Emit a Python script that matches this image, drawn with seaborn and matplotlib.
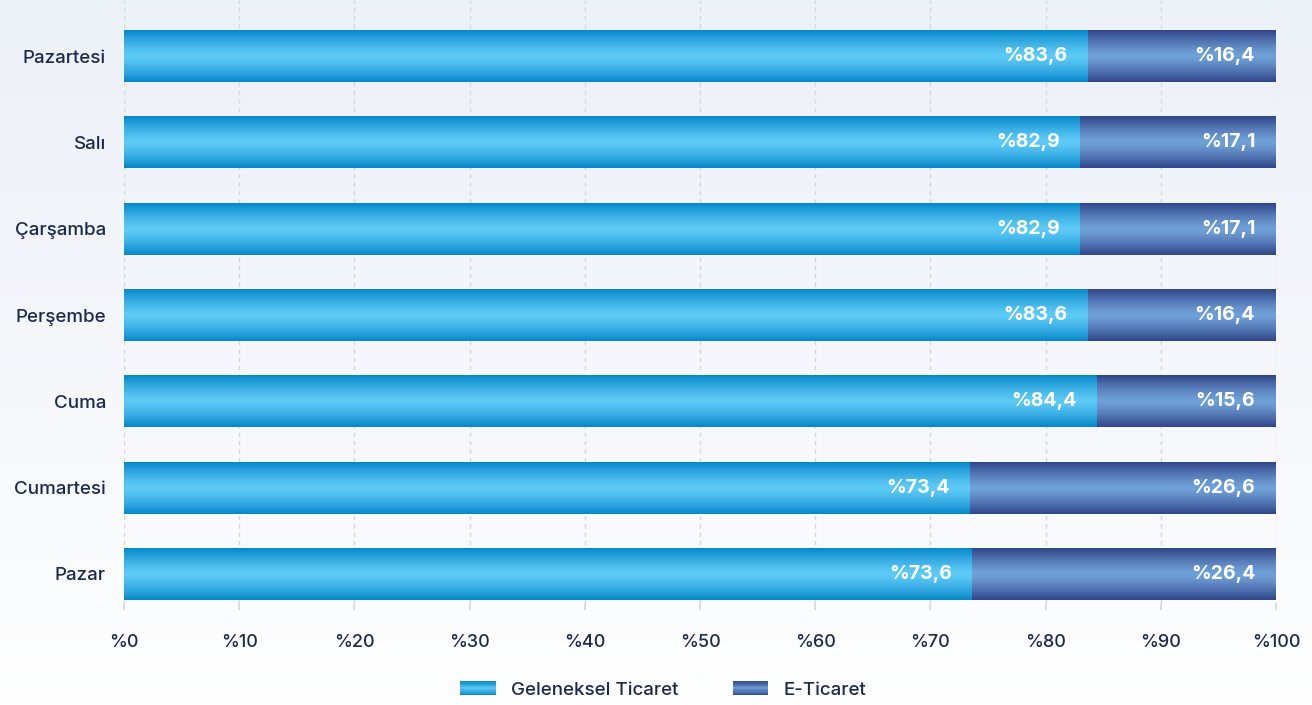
import numpy as np
import pandas as pd
import matplotlib
matplotlib.use("Agg")
import matplotlib.pyplot as plt
import seaborn as sns
from matplotlib.colors import LinearSegmentedColormap
from matplotlib.patches import Rectangle
from matplotlib.legend_handler import HandlerBase

days = ["Pazartesi", "Salı", "Çarşamba", "Perşembe", "Cuma", "Cumartesi", "Pazar"]
geleneksel = [83.6, 82.9, 82.9, 83.6, 84.4, 73.4, 73.6]
eticaret = [16.4, 17.1, 17.1, 16.4, 15.6, 26.6, 26.4]
series_names = ["Geleneksel Ticaret", "E-Ticaret"]
xticks = list(range(0, 101, 10))

df = pd.DataFrame({"gun": days, "geleneksel": geleneksel, "eticaret": eticaret})
df["toplam"] = df["geleneksel"] + df["eticaret"]

# renkler (kenar, orta)
blue_edge, blue_mid = "#0788cb", "#5ecaf6"
navy_edge, navy_mid = "#31468a", "#70a0d8"
text_col = "#1c2a4f"

sns.set_theme(style="white")
plt.rcParams["font.family"] = ["Inter", "DejaVu Sans"]

fig = plt.figure(figsize=(13.12, 7.05), dpi=100)

# arka plan gradyanı
bg = fig.add_axes([0, 0, 1, 1], zorder=-10)
bg_cmap = LinearSegmentedColormap.from_list("bg", ["#ffffff", "#edf1f8"])
bg.imshow(np.linspace(0, 1, 256).reshape(-1, 1)[::-1] ** 0.8, cmap=bg_cmap,
          aspect="auto", extent=[0, 1, 0, 1])
bg.axis("off")

ax = fig.add_axes([124 / 1312, 1 - 603 / 705, (1276 - 124) / 1312, 603 / 705])
ax.patch.set_alpha(0)

sns.barplot(data=df, x="toplam", y="gun", color=navy_mid, width=0.6, ax=ax,
            orient="h", saturation=1, linewidth=0)
sns.barplot(data=df, x="geleneksel", y="gun", color=blue_mid, width=0.6, ax=ax,
            orient="h", saturation=1, linewidth=0)

# dikey gradyan: kenarlar koyu, orta açık
grad = np.abs(np.linspace(-1, 1, 64)).reshape(-1, 1)
grad = 1 - grad ** 1.3
cmaps = [LinearSegmentedColormap.from_list("n", [navy_edge, navy_mid]),
         LinearSegmentedColormap.from_list("b", [blue_edge, blue_mid])]
for cont, cm in zip(ax.containers, cmaps):
    for p in cont.patches:
        x0, y0 = p.get_x(), p.get_y()
        w, h = p.get_width(), p.get_height()
        im = ax.imshow(grad, cmap=cm, aspect="auto", extent=[x0, x0 + w, y0 + h, y0],
                       zorder=p.get_zorder() + 0.1, interpolation="bicubic")
        im.set_clip_path(p)

# etiketler
for i in range(len(days)):
    ax.annotate(f"%{geleneksel[i]:.1f}".replace(".", ","), (geleneksel[i], i),
                xytext=(-14, 0), textcoords="offset points", ha="right", va="center",
                color="white", fontsize=14, fontweight="bold", zorder=5)
    ax.annotate(f"%{eticaret[i]:.1f}".replace(".", ","), (df["toplam"][i], i),
                xytext=(-15, 0), textcoords="offset points", ha="right", va="center",
                color="white", fontsize=14, fontweight="bold", zorder=5)

ax.set_xlim(0, 100)
ax.set_ylim(6 + 29 / 86.33, -56 / 86.33)
ax.set_xticks(xticks)
ax.set_xticklabels([f"%{t}" for t in xticks])
ax.set_xlabel("")
ax.set_ylabel("")
ax.xaxis.grid(True, color="#d3d6db", linestyle=(0, (3, 3)), linewidth=1)
ax.set_axisbelow(True)
for s in ax.spines.values():
    s.set_visible(False)
ax.tick_params(axis="x", length=5, color="#d3d6db", pad=17, labelsize=13,
               labelcolor=text_col, bottom=True)
ax.tick_params(axis="y", length=0, pad=13, labelsize=13.5, labelcolor=text_col)
for lbl in ax.get_xticklabels() + ax.get_yticklabels():
    lbl.set_fontweight("medium")


class GradHandler(HandlerBase):
    def __init__(self, edge, mid):
        super().__init__()
        self.edge, self.mid = edge, mid

    def create_artists(self, legend, orig_handle, xdescent, ydescent, width, height,
                       fontsize, trans):
        cm = LinearSegmentedColormap.from_list("h", [self.edge, self.mid, self.edge])
        n = 12
        arts = []
        for k in range(n):
            r = Rectangle((-xdescent, -ydescent + height * k / n), width, height / n + 0.3,
                          facecolor=cm((k + 0.5) / n), edgecolor="none", transform=trans)
            arts.append(r)
        return arts


h1 = Rectangle((0, 0), 1, 1)
h2 = Rectangle((0, 0), 1, 1)
leg = fig.legend([h1, h2], series_names, loc="center", bbox_to_anchor=(663 / 1312, 1 - 690 / 705),
                 ncol=2, frameon=False, fontsize=13.5, handlelength=1.9, handleheight=0.75,
                 columnspacing=2.9, handletextpad=0.8,
                 handler_map={h1: GradHandler(blue_edge, blue_mid),
                              h2: GradHandler(navy_edge, navy_mid)})
for t in leg.get_texts():
    t.set_color(text_col)
    t.set_fontweight("medium")

fig.savefig("out.png", dpi=100)
